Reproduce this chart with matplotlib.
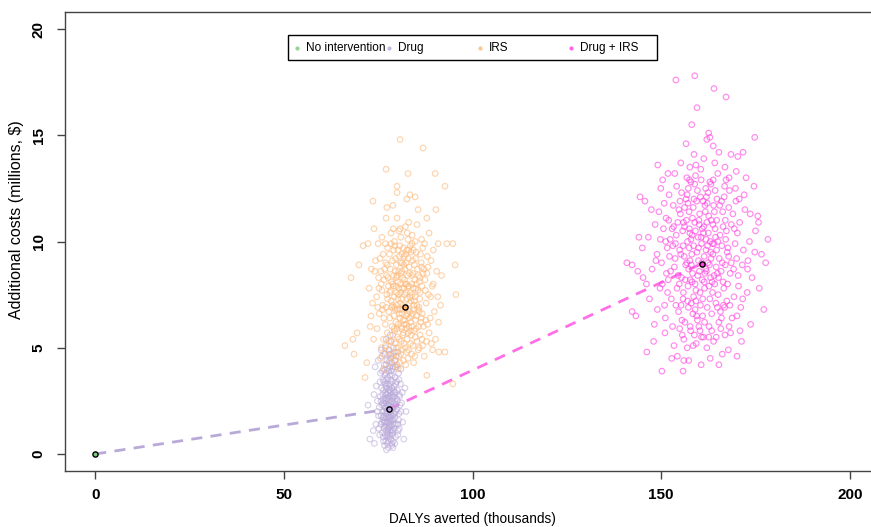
import matplotlib
matplotlib.use("Agg")
import matplotlib.pyplot as plt
from matplotlib.patches import Rectangle

# ---------------- data ----------------
series_names = ["No intervention", "Drug", "IRS", "Drug + IRS"]
series_colors = ["#7FC97F", "#B9A9D9", "#FDB97A", "#FF3FE0"]

none_pts = [(0.0, 0.0)]

drug_pts = [
    (77.9,2.1),(76.8,1.5),(78.6,2.8),(79.4,1.9),(77.2,3.1),(78.1,0.9),(76.3,2.4),(79.9,2.6),(77.5,1.2),(78.8,1.4),
    (76.9,2.9),(78.3,3.5),(77.0,0.6),(79.2,3.2),(75.8,1.8),(80.4,1.6),(77.7,2.5),(78.9,2.2),(76.5,3.4),(79.6,0.8),
    (77.4,1.9),(78.5,1.1),(76.1,1.0),(80.1,3.0),(77.8,3.9),(78.2,1.7),(75.5,2.7),(79.0,4.1),(76.7,0.4),(80.8,2.3),
    (77.1,2.2),(78.7,3.7),(76.4,1.6),(79.3,1.2),(77.6,2.9),(78.0,4.4),(75.9,3.1),(80.3,1.1),(77.3,0.8),(79.7,2.0),
    (76.6,2.0),(78.4,2.4),(77.9,1.4),(79.1,2.7),(76.2,2.8),(80.6,2.8),(77.5,3.6),(78.6,0.5),(75.3,2.2),(79.5,3.6),
    (77.0,1.7),(78.1,3.0),(76.8,3.7),(79.8,1.4),(77.7,0.3),(78.9,1.8),(76.0,2.3),(80.0,2.1),(77.2,2.6),(78.4,4.7),
    (75.7,1.4),(79.2,2.4),(77.4,3.3),(78.7,0.9),(76.5,1.2),(80.5,1.9),(77.9,3.2),(78.2,2.0),(76.9,0.9),(79.4,4.4),
    (74.8,2.5),(81.2,2.4),(77.6,1.0),(78.5,3.9),(76.3,3.5),(79.0,0.6),(77.1,4.2),(78.0,1.3),(75.1,1.8),(80.9,3.3),
    (77.3,1.5),(78.8,2.6),(76.7,2.5),(79.6,2.9),(77.8,4.9),(78.3,0.7),(76.1,3.9),(80.2,0.9),(77.5,2.3),(79.1,3.0),
    (74.5,3.2),(81.5,1.5),(76.4,0.6),(78.6,1.6),(77.0,3.8),(79.3,4.8),(75.6,3.8),(80.7,2.7),(77.7,1.8),(78.1,2.7),
    (72.3,2.3),(72.8,0.7),(73.7,1.1),(82.1,3.1),(81.8,0.7),(74.2,4.1),(82.4,2.0),(74.0,0.5),(76.0,4.6),(80.0,4.2),
    (77.2,0.2),(78.9,0.3),(75.4,0.9),(80.4,3.8),(76.6,4.2),(79.8,4.6),(75.0,4.4),(81.0,4.0),(76.9,5.0),(78.5,5.3),
    (77.4,2.0),(78.3,1.9),(77.0,2.4),(78.7,2.1),(76.6,1.8),(79.0,1.6),(77.8,2.7),(78.0,1.6),(77.3,2.8),(78.6,2.5),
    (76.8,2.2),(79.2,2.2),(77.6,1.5),(78.4,2.9),(77.1,1.1),(79.5,1.7),(76.3,2.6),(78.2,3.3),(77.9,0.8),(78.8,3.4),
    (76.0,1.5),(79.7,3.3),(77.5,4.0),(78.1,4.1),(76.4,3.0),(80.1,2.5),(77.2,3.5),(78.9,1.1),(75.8,2.5),(80.3,1.4),
    (77.7,1.2),(78.5,1.3),(76.7,1.3),(79.4,2.5),(77.0,3.2),(78.3,4.5),(76.2,2.0),(79.9,3.4),(77.4,0.5),(78.6,4.3),
    (77.6,2.3),(78.4,2.2),(77.0,1.9),(78.9,2.7),(76.5,2.3),(79.1,1.9),(77.8,3.0),(78.1,1.1),(77.2,1.3),(78.6,3.1),
    (76.9,3.3),(79.3,2.9),(77.5,0.9),(78.3,1.5),(76.2,1.7),(79.6,2.3),(77.3,4.4),(78.8,4.0),(76.4,4.0),(79.5,4.1),
    (77.9,4.7),(76.8,4.7),(79.0,5.0),(78.2,5.6),(77.1,5.4),(75.5,3.4),(80.5,3.5),(75.2,1.2),(80.6,1.2),(74.8,2.0),
    (81.0,2.0),(77.7,0.6),(78.6,0.4),(76.3,0.8),(79.4,0.5),(75.8,4.9),(80.2,4.8),(74.4,1.4),(81.4,2.9),(73.9,2.8),
    (77.5,2.6),(78.0,2.3),(77.1,2.8),(78.5,1.8),(76.6,1.5),(79.3,1.4),(77.8,1.7),(78.8,1.0),(76.9,2.6),(78.1,3.7),
]

irs_pts = [
    (80.8,14.8),(86.9,14.4),(77.1,13.4),(82.9,13.2),(90.1,13.2),(92.7,12.6),(80.0,12.6),(80.0,12.3),(73.6,11.9),(83.4,12.2),
    (84.8,12.1),(82.6,12.0),(78.9,11.7),(77.3,11.6),(85.6,11.5),(90.3,11.5),(77.1,11.1),(80.0,11.1),(87.9,11.1),(73.9,10.6),
    (71.0,9.8),(72.3,9.9),(93.2,9.9),(94.8,9.9),(90.9,9.9),(66.2,5.1),(68.6,4.7),(67.8,8.3),(69.9,8.9),(95.6,7.5),
    (95.4,8.9),(69.4,5.7),(68.3,5.4),(72.0,4.3),(71.5,3.6),(92.7,4.8),(91.1,4.8),(94.8,3.3),(87.9,3.7),
    (78.4,10.4),(80.5,10.5),(82.2,10.7),(84.0,10.3),(85.3,10.8),(79.3,10.0),(86.5,10.1),(81.0,10.2),(83.1,10.9),(76.0,10.2),
    (88.5,10.4),(75.0,9.9),(89.6,9.6),
    (82.1,6.9),(80.5,7.8),(83.6,6.2),(79.2,6.5),(84.8,7.4),(81.3,8.6),(78.4,7.2),(85.9,8.1),(82.7,5.4),(80.0,5.9),
    (86.7,6.6),(77.6,8.3),(83.0,9.2),(79.8,8.9),(84.2,5.1),(81.0,4.7),(87.5,7.7),(76.9,6.1),(82.4,7.6),(80.8,6.4),
    (85.1,9.5),(78.0,9.4),(83.9,8.4),(79.5,5.2),(86.1,5.6),(81.7,9.7),(77.3,7.5),(88.2,8.8),(82.9,4.5),(80.2,8.1),
    (84.5,6.8),(75.8,8.0),(83.3,7.1),(79.0,7.9),(87.0,6.0),(81.5,5.6),(76.4,5.4),(85.6,4.9),(82.0,8.2),(78.7,6.0),
    (84.0,9.9),(80.6,9.3),(86.4,9.0),(77.9,4.9),(83.5,5.8),(79.9,7.0),(88.8,6.4),(81.2,7.3),(76.2,7.0),(85.3,7.0),
    (82.6,9.6),(78.2,8.7),(84.7,8.2),(80.3,5.0),(87.8,5.3),(81.9,6.1),(75.3,6.6),(83.8,6.5),(79.4,9.8),(86.0,7.3),
    (82.3,4.2),(77.0,9.0),(85.0,5.9),(80.9,8.0),(89.3,7.9),(81.6,7.0),(74.6,7.4),(84.3,7.8),(78.9,5.6),(83.2,8.8),
    (80.1,6.8),(86.9,8.5),(76.7,8.7),(82.8,6.6),(79.6,4.4),(88.0,9.3),(81.4,9.0),(75.9,5.0),(84.9,6.3),(80.4,7.5),
    (83.7,9.5),(77.8,6.7),(86.3,6.2),(82.2,5.0),(78.5,8.1),(85.4,8.7),(81.1,5.3),(74.1,8.6),(83.4,7.4),(79.7,6.2),
    (87.2,4.6),(80.7,9.8),(85.8,6.9),(76.5,6.4),(82.5,8.0),(79.1,8.4),(84.4,4.3),(81.8,7.8),(77.4,5.7),(89.9,6.7),
    (83.1,6.0),(80.0,4.1),(86.6,7.9),(78.1,7.6),(84.1,9.1),(81.3,6.6),(75.5,9.2),(82.9,7.9),(79.3,7.4),(87.4,8.2),
    (80.6,5.4),(85.2,6.5),(77.2,8.4),(83.6,5.2),(81.0,8.5),(88.5,5.7),(78.8,9.1),(84.6,7.2),(82.0,6.3),(76.0,7.7),
    (86.2,9.4),(80.3,6.1),(83.9,4.7),(79.0,4.7),(85.7,8.4),(81.7,4.4),(77.5,9.7),(84.0,6.0),(82.4,9.0),(78.3,5.3),
    (90.5,8.6),(73.5,7.1),(86.8,5.1),(80.9,7.1),(83.3,8.5),(79.8,8.3),(85.5,7.7),(81.5,8.3),(77.1,6.9),(82.7,7.3),
    (84.8,5.5),(80.2,9.6),(87.7,7.1),(78.6,4.6),(83.0,6.8),(81.2,5.9),(75.1,8.3),(88.9,7.4),(82.1,8.7),(79.5,6.8),
    (86.5,8.8),(80.7,4.3),(84.3,9.6),(77.7,7.9),(83.5,7.6),(81.9,9.3),(76.3,9.4),(85.9,6.7),(79.2,5.9),(82.6,4.8),
    (91.5,7.0),(72.9,6.0),(89.0,9.1),(74.7,5.9),(90.2,5.4),(73.2,8.7),(91.8,8.4),(75.6,4.5),(89.4,4.9),(76.8,4.0),
    (81.6,6.3),(79.9,7.6),(83.2,7.9),(80.4,8.6),(84.1,6.6),(78.6,6.9),(82.8,8.4),(85.0,7.8),(81.1,6.0),(79.6,9.2),
    (83.8,5.6),(86.4,6.4),(77.5,7.3),(82.3,9.4),(80.1,5.5),(84.6,8.9),(81.9,5.2),(78.9,8.0),(85.7,6.0),(83.0,4.9),
    (76.6,8.2),(87.1,8.7),(80.7,6.8),(82.5,6.1),(84.4,7.0),(79.4,5.8),(81.4,7.8),(86.0,8.3),(78.1,6.4),(83.5,9.8),
    (74.9,6.9),(88.3,7.5),(80.2,7.3),(82.9,5.7),(85.3,5.3),(77.8,5.3),(81.8,8.9),(79.1,9.6),(84.9,9.2),(83.3,6.4),
    (73.8,5.4),(89.6,8.0),(76.1,6.8),(87.6,6.3),(80.5,4.6),(82.0,7.5),(84.2,8.5),(78.4,9.9),(86.8,9.7),(81.2,4.9),
    (75.2,7.8),(88.1,6.1),(79.7,7.9),(83.7,7.2),(80.9,9.0),(82.6,5.9),(77.0,5.1),(85.9,5.0),(81.5,6.8),(79.3,6.9),
    (72.6,7.8),(90.8,7.4),(74.3,9.1),(89.1,5.2),(76.9,9.9),(87.3,9.9),(78.0,4.3),(84.7,4.6),(80.8,10.6),(82.9,10.1),
    (83.4,6.7),(81.0,7.6),(79.5,8.6),(84.0,7.5),(82.2,8.0),(80.6,6.6),(85.5,6.8),(78.3,7.7),(83.9,8.0),(81.3,9.4),
    (86.1,7.6),(77.4,8.9),(82.4,6.5),(80.0,8.4),(84.5,5.8),(79.8,5.0),(83.1,9.6),(81.7,5.7),(85.1,8.0),(78.8,7.0),
    (76.4,4.7),(87.9,8.5),(75.7,8.6),(86.6,5.4),(82.7,10.4),(79.0,10.6),(84.8,10.0),(73.1,6.5),(91.0,6.2),(80.3,4.0),
]

drug_irs_pts = [
    (153.9,17.6),(158.9,17.8),(164.0,17.2),(167.2,16.8),(159.5,16.3),(158.1,15.5),(162.6,15.1),(162.9,14.9),(162.1,14.8),(156.6,14.6),
    (174.8,14.9),(165.3,14.2),(168.5,14.1),(171.7,14.2),(149.1,13.6),(164.2,13.7),(166.9,13.5),(157.6,13.5),(159.2,13.6),(144.4,12.1),
    (145.7,11.9),(149.9,12.5),(140.9,9.0),(142.3,8.9),(143.8,8.6),(145.2,8.3),(142.3,6.7),(143.3,6.5),(146.2,4.8),(150.2,3.9),
    (155.8,3.9),(152.8,4.5),(170.1,4.6),(177.2,6.8),(178.3,10.1),(177.7,9.0),(175.6,11.2),
    (160.8,9.0),(158.2,10.3),(163.5,8.1),(155.9,7.6),(166.1,9.8),(161.7,11.4),(157.3,8.7),(164.9,6.9),(159.6,6.3),(168.3,8.5),
    (153.8,9.9),(162.4,12.3),(156.7,11.0),(165.5,11.7),(159.0,8.0),(170.2,10.4),(151.9,8.2),(163.1,9.5),(157.8,5.8),(167.4,7.2),
    (160.1,10.8),(154.6,6.7),(166.8,12.6),(158.7,12.0),(162.9,7.3),(150.6,10.6),(171.5,8.9),(156.1,9.3),(164.3,10.6),(161.2,5.5),
    (169.0,11.3),(153.2,11.7),(159.9,9.7),(165.8,5.9),(157.0,10.0),(162.0,8.6),(148.9,9.4),(172.8,7.6),(155.4,8.3),(163.8,12.9),
    (160.4,7.0),(167.9,9.3),(152.7,7.3),(158.5,11.6),(164.6,8.8),(156.3,6.2),(170.7,12.0),(161.9,10.1),(149.7,7.8),(166.4,10.7),
    (159.3,5.2),(154.1,12.6),(163.3,11.0),(157.6,9.1),(168.8,6.4),(161.5,7.8),(151.3,11.1),(165.2,8.3),(158.0,7.1),(173.4,10.0),
    (155.7,10.5),(162.7,6.0),(160.6,12.9),(167.0,11.0),(153.5,8.8),(164.0,9.9),(157.9,12.8),(170.0,9.2),(159.7,8.4),(150.1,9.0),
    (166.6,7.8),(156.0,5.4),(162.2,11.8),(154.9,9.6),(168.1,12.4),(161.0,6.5),(158.9,10.9),(165.0,13.2),(152.4,10.1),(171.1,6.9),
    (157.1,7.9),(163.6,7.6),(160.2,11.3),(167.6,8.0),(155.1,11.3),(161.4,9.3),(148.4,10.8),(164.8,12.0),(158.4,6.6),(169.6,9.9),
    (153.0,6.0),(162.5,10.4),(156.9,12.2),(166.0,6.4),(159.4,11.9),(174.1,8.3),(151.6,9.7),(163.9,5.3),(157.5,10.6),(168.6,10.8),
    (160.9,8.2),(155.3,7.0),(165.4,9.2),(159.1,13.1),(162.1,5.0),(150.9,7.0),(167.2,12.9),(156.5,8.9),(170.5,7.9),(161.8,12.5),
    (154.4,10.9),(164.1,11.4),(158.1,9.4),(166.9,5.6),(152.1,12.2),(163.0,10.0),(160.0,6.0),(172.2,11.5),(157.4,11.4),(165.9,8.6),
    (155.6,5.6),(161.3,10.7),(169.3,7.4),(153.7,9.2),(162.8,8.9),(158.6,7.4),(147.6,8.7),(167.7,9.7),(156.2,10.7),(164.5,7.1),
    (160.5,13.4),(151.1,6.4),(163.2,12.7),(159.8,10.2),(171.8,9.6),(157.2,6.9),(166.3,11.4),(154.2,7.8),(161.6,8.5),(168.4,5.7),
    (158.3,8.5),(165.6,10.3),(152.9,10.6),(162.3,9.8),(156.8,13.0),(173.0,9.1),(160.3,5.8),(164.7,9.6),(155.0,11.9),(169.8,11.9),
    (149.4,11.4),(163.4,6.6),(157.7,8.2),(167.1,10.1),(161.1,11.9),(153.4,5.1),(166.5,7.0),(159.2,7.7),(175.0,10.5),(155.8,9.8),
    (162.6,11.2),(158.8,5.6),(170.4,8.4),(151.4,8.5),(164.2,8.0),(160.7,9.9),(157.2,12.5),(168.0,6.0),(154.8,8.0),(163.7,10.8),
    (146.6,10.2),(176.0,7.8),(148.2,6.1),(174.6,12.6),(150.4,12.9),(171.3,5.3),(154.3,4.6),(167.8,4.9),(146.9,7.3),(173.7,6.1),
    (151.8,13.2),(169.9,13.3),(145.0,9.7),(176.6,9.4),(148.0,5.3),(172.5,13.0),(160.6,4.2),(163.0,4.5),(157.3,4.4),(165.3,4.2),
    (159.5,9.5),(161.8,8.7),(157.9,10.1),(163.2,9.2),(160.3,7.6),(156.4,8.2),(164.4,10.2),(158.6,9.8),(162.7,7.9),(155.2,9.4),
    (166.2,9.0),(160.0,11.0),(157.0,7.2),(163.9,11.7),(159.0,6.8),(165.1,7.5),(154.0,10.3),(161.9,9.6),(158.0,8.9),(167.3,10.5),
    (152.5,8.6),(162.0,12.1),(156.6,12.0),(164.9,8.5),(160.7,5.5),(169.2,8.7),(153.9,7.0),(161.2,10.4),(157.4,9.7),(166.7,12.1),
    (151.2,10.0),(163.4,5.8),(159.6,12.4),(168.2,7.0),(155.5,6.3),(162.4,9.0),(158.3,11.1),(170.8,10.9),(150.3,8.0),(165.7,6.7),
    (160.9,10.6),(156.9,5.0),(164.0,8.4),(152.2,9.3),(167.5,9.5),(159.2,7.2),(162.9,12.8),(154.7,11.5),(171.6,7.3),(157.7,6.0),
    (163.6,9.9),(160.1,8.6),(155.9,10.9),(166.4,8.1),(158.5,5.1),(161.6,11.7),(153.3,10.7),(169.4,10.6),(157.1,11.8),(164.6,5.5),
    (149.8,10.1),(162.2,6.9),(159.9,9.1),(167.9,11.6),(154.5,8.4),(165.0,10.0),(161.0,7.3),(156.8,9.0),(172.9,8.7),(158.9,12.7),
    (163.1,8.3),(151.7,7.6),(166.0,11.9),(160.4,12.1),(155.8,7.3),(168.6,9.0),(157.6,10.4),(162.6,5.5),(153.1,9.8),(164.3,12.4),
    (170.1,6.5),(159.4,6.5),(161.4,8.1),(156.2,11.6),(165.3,6.2),(158.2,8.1),(163.7,9.4),(150.8,11.8),(167.0,8.9),(160.6,10.2),
    (154.9,5.9),(162.1,10.9),(157.5,12.9),(169.7,12.5),(152.0,11.0),(164.7,11.0),(159.1,10.5),(166.8,6.9),(155.4,12.3),(161.5,6.2),
    (148.6,9.1),(173.6,11.3),(147.4,11.5),(174.8,9.5),(149.0,6.8),(172.0,12.2),(151.0,5.7),(170.9,5.8),(156.0,4.4),(166.2,4.7),
    (158.7,14.1),(161.3,13.9),(163.8,14.5),(155.2,13.7),(168.0,13.0),(153.6,13.2),(170.3,14.0),(146.1,8.0),(175.8,10.9),(144.1,10.2),
]

# mean (DALYs averted, costs) per strategy
mean_x = [0.0, 77.9, 82.1, 160.8]
mean_y = [0.0, 2.12, 6.93, 8.96]

x_ticks = [0, 50, 100, 150, 200]
y_ticks = [0, 5, 10, 15, 20]

# ---------------- fonts ----------------
plt.rcParams["font.family"] = ["Liberation Sans", "DejaVu Sans"]

# ---------------- figure ----------------
W, H = 871, 527
fig = plt.figure(figsize=(W / 100, H / 100), dpi=100)
L, R, T, B = 65, 880, 12, 471
ax = fig.add_axes([L / W, 1 - B / H, (R - L) / W, (B - T) / H])
ax.set_xlim(-8, 208)
ax.set_ylim(-0.8, 20.8)

# frontier lines (dashed), drawn under the clouds
ax.plot(mean_x[0:2], mean_y[0:2], ls=(0, (4, 3)), lw=2, color=series_colors[1], zorder=1)
ax.plot([mean_x[1], mean_x[3]], [mean_y[1], mean_y[3]], ls=(0, (4, 3)), lw=2,
        color=series_colors[3], alpha=0.75, zorder=1)

clouds = [none_pts, drug_pts, irs_pts, drug_irs_pts]
alphas = [0.8, 0.55, 0.6, 0.6]
for pts, col, a in zip(clouds[1:], series_colors[1:], alphas[1:]):
    xs = [p[0] for p in pts]
    ys = [p[1] for p in pts]
    ax.scatter(xs, ys, s=16, facecolors="none", edgecolors=col, linewidths=0.85, alpha=a, zorder=2)

# means
for mx, my, col in zip(mean_x, mean_y, series_colors):
    ax.scatter([mx], [my], s=14, facecolors=col, edgecolors="black", linewidths=1.0, zorder=4)

# axes styling (R base look)
for sp in ax.spines.values():
    sp.set_color("#444444")
    sp.set_linewidth(1.0)
ax.set_xticks(x_ticks)
ax.set_yticks(y_ticks)
ax.tick_params(axis="both", direction="out", length=6, width=1, color="#444444")
ax.tick_params(axis="x", pad=6)
ax.tick_params(axis="y", pad=8)
for lab in ax.get_xticklabels():
    lab.set_fontweight("bold")
    lab.set_fontsize(11)
for lab in ax.get_yticklabels():
    lab.set_fontweight("bold")
    lab.set_fontsize(11)
    lab.set_rotation(90)
    lab.set_va("center")

fig.text((390 + 555) / 2 / W, 1 - 519 / H, "DALYs averted (thousands)",
         ha="center", va="center", fontsize=9.8)
fig.text(17 / W, 1 - 220 / H, "Additional costs (millions, $)",
         ha="center", va="center", rotation=90, fontsize=11.5)

# legend (R-style horizontal legend)
def fx(px):
    return (px - L) / (R - L)

def fy(py):
    return (B - py) / (B - T)

ax.add_patch(Rectangle((fx(288), fy(60)), fx(657) - fx(288), fy(35) - fy(60),
                       transform=ax.transAxes, fill=True, facecolor="white",
                       edgecolor="black", lw=1.0, zorder=5))
mark_px = [297, 389, 480, 571]
for name, col, mp in zip(series_names, series_colors, mark_px):
    ax.scatter([fx(mp)], [fy(48)], s=9, color=col, alpha=0.8, linewidths=0,
               transform=ax.transAxes, zorder=6)
    ax.text(fx(mp + 9), fy(48), name, transform=ax.transAxes, ha="left", va="center",
            fontsize=8.5, zorder=6)

fig.savefig("out.png", dpi=100)
